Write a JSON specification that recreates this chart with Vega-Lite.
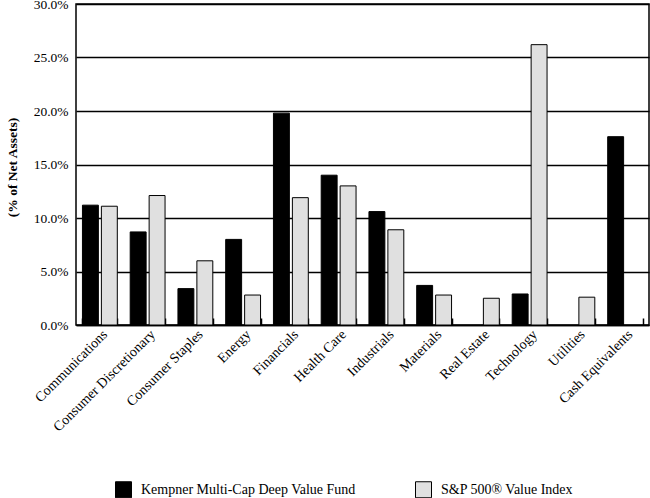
{
  "$schema": "https://vega.github.io/schema/vega-lite/v6.json",
  "autosize": {"type": "none"},
  "padding": {"left": 76, "top": 4, "right": 1, "bottom": 173},
  "width": 573,
  "height": 321,
  "background": "#ffffff",
  "config": {
    "font": "Liberation Serif",
    "view": {"stroke": "#000000", "strokeWidth": 1.5},
    "axis": {"labelFont": "Liberation Serif", "titleFont": "Liberation Serif", "labelColor": "#000000", "titleColor": "#000000"}
  },
  "data": {
    "values": [
      {"sector": "Communications", "series": "Kempner Multi-Cap Deep Value Fund", "value": 11.2},
      {"sector": "Communications", "series": "S&P 500® Value Index", "value": 11.1},
      {"sector": "Consumer Discretionary", "series": "Kempner Multi-Cap Deep Value Fund", "value": 8.7},
      {"sector": "Consumer Discretionary", "series": "S&P 500® Value Index", "value": 12.1},
      {"sector": "Consumer Staples", "series": "Kempner Multi-Cap Deep Value Fund", "value": 3.4},
      {"sector": "Consumer Staples", "series": "S&P 500® Value Index", "value": 6.0},
      {"sector": "Energy", "series": "Kempner Multi-Cap Deep Value Fund", "value": 8.0},
      {"sector": "Energy", "series": "S&P 500® Value Index", "value": 2.8},
      {"sector": "Financials", "series": "Kempner Multi-Cap Deep Value Fund", "value": 19.8},
      {"sector": "Financials", "series": "S&P 500® Value Index", "value": 11.9},
      {"sector": "Health Care", "series": "Kempner Multi-Cap Deep Value Fund", "value": 14.0},
      {"sector": "Health Care", "series": "S&P 500® Value Index", "value": 13.0},
      {"sector": "Industrials", "series": "Kempner Multi-Cap Deep Value Fund", "value": 10.6},
      {"sector": "Industrials", "series": "S&P 500® Value Index", "value": 8.9},
      {"sector": "Materials", "series": "Kempner Multi-Cap Deep Value Fund", "value": 3.7},
      {"sector": "Materials", "series": "S&P 500® Value Index", "value": 2.8},
      {"sector": "Real Estate", "series": "S&P 500® Value Index", "value": 2.5},
      {"sector": "Technology", "series": "Kempner Multi-Cap Deep Value Fund", "value": 2.9},
      {"sector": "Technology", "series": "S&P 500® Value Index", "value": 26.2},
      {"sector": "Utilities", "series": "S&P 500® Value Index", "value": 2.6},
      {"sector": "Cash Equivalents", "series": "Kempner Multi-Cap Deep Value Fund", "value": 17.6}
    ]
  },
  "mark": {"type": "bar", "stroke": "#000000", "strokeWidth": 1},
  "encoding": {
    "x": {
      "field": "sector",
      "type": "nominal",
      "sort": null,
      "scale": {"paddingInner": 0.27, "paddingOuter": 0.135},
      "axis": {
        "title": null,
        "labelAngle": -45,
        "labelFontSize": 14,
        "labelPadding": 9,
        "tickBand": "extent",
        "tickSize": -7,
        "tickColor": "#000000",
        "tickWidth": 1.5,
        "domainColor": "#000000",
        "domainWidth": 1.5,
        "labelLimit": 300
      }
    },
    "xOffset": {
      "field": "series",
      "type": "nominal",
      "scale": {"domain": ["Kempner Multi-Cap Deep Value Fund", "S&P 500® Value Index"], "paddingInner": 0.16}
    },
    "y": {
      "field": "value",
      "type": "quantitative",
      "scale": {"domain": [0, 30], "nice": false},
      "axis": {
        "values": [0, 5, 10, 15, 20, 25, 30],
        "labelExpr": "format(datum.value, '.1f') + '%'",
        "labelFontSize": 13.5,
        "labelPadding": 8,
        "ticks": false,
        "domain": false,
        "grid": true,
        "gridColor": "#000000",
        "gridWidth": 1.5,
        "gridOpacity": 1,
        "title": "(% of Net Assets)",
        "titleFontSize": 13.5,
        "titleFontWeight": "bold",
        "titleAngle": -90,
        "titleX": -64,
        "titleY": 163,
        "titleAlign": "center",
        "titleBaseline": "middle"
      }
    },
    "color": {
      "field": "series",
      "type": "nominal",
      "scale": {"domain": ["Kempner Multi-Cap Deep Value Fund", "S&P 500® Value Index"], "range": ["#000000", "#e0e0e0"]},
      "legend": {
        "title": null,
        "orient": "none",
        "direction": "horizontal",
        "legendX": 39,
        "legendY": 477,
        "symbolType": "square",
        "symbolSize": 256,
        "symbolStrokeColor": "#000000",
        "symbolStrokeWidth": 1,
        "symbolOpacity": 1,
        "labelFont": "Liberation Serif",
        "labelFontSize": 14,
        "labelColor": "#000000",
        "labelOffset": 9,
        "labelLimit": 400,
        "columnPadding": 57
      }
    }
  }
}
